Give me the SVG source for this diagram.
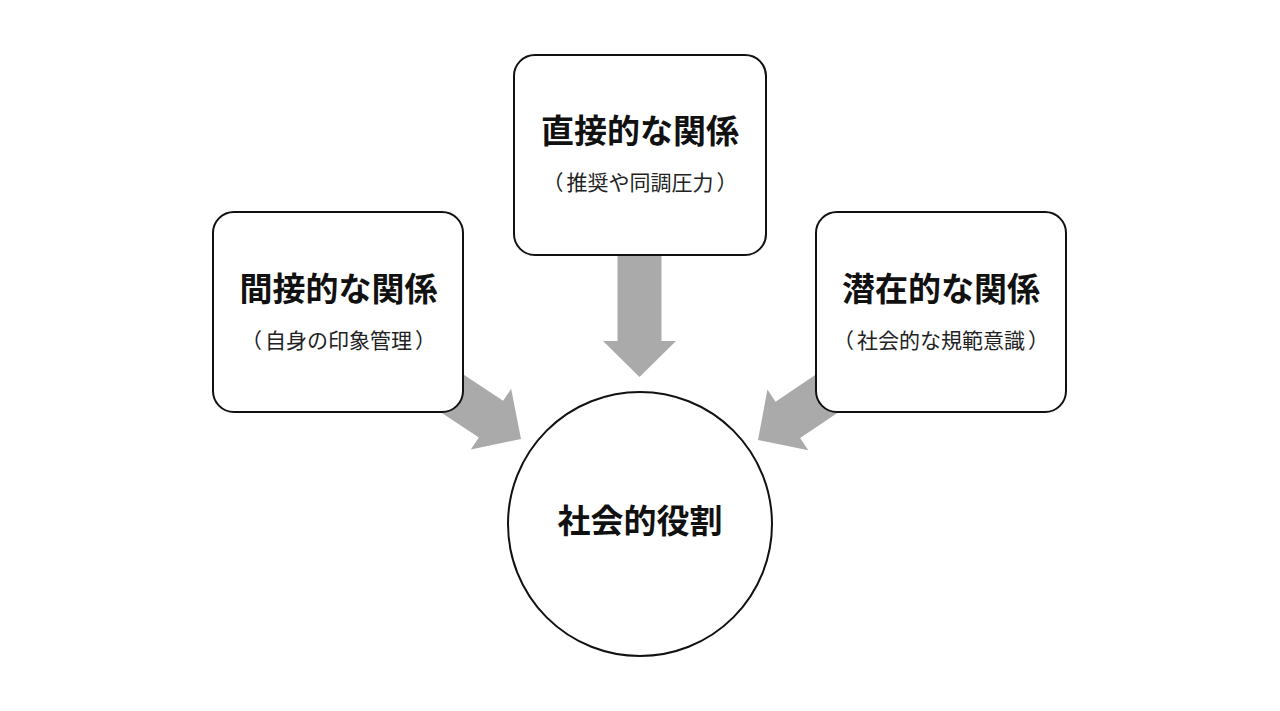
<svg xmlns="http://www.w3.org/2000/svg" xmlns:xlink="http://www.w3.org/1999/xlink" width="1280" height="711" viewBox="0 0 1280 711">
  <style>
    .box { fill: #ffffff; stroke: #111111; stroke-width: 2; }
    .arrow { fill: #aaaaaa; stroke: none; }
    .title { font-family: "Noto Sans CJK JP", "Noto Sans", sans-serif; font-weight: bold; font-size: 33px; fill: #111111; text-anchor: middle; }
    .sub { font-family: "Noto Sans CJK JP", "Noto Sans", sans-serif; font-size: 21px; fill: #222222; text-anchor: middle; }
  </style>
  <defs>
    <polygon id="arrowShape" points="-22,-136 22,-136 22,-36 36.5,-36 0,0 -36.5,-36 -22,-36"/>
  </defs>
  <rect width="1280" height="711" fill="#ffffff"/>
  <g id="connectors">
    <use xlink:href="#arrowShape" href="#arrowShape" class="arrow" transform="translate(639.5,377)"/>
    <use xlink:href="#arrowShape" href="#arrowShape" class="arrow" transform="translate(521,439) rotate(-56.5)"/>
    <use xlink:href="#arrowShape" href="#arrowShape" class="arrow" transform="translate(758,440) rotate(56)"/>
  </g>
  <g id="node-direct">
    <rect class="box" x="514" y="55" width="252" height="200" rx="21" ry="21"/>
    <text class="title" x="640" y="143">直接的な関係</text>
    <text class="sub" x="640" y="190">（<tspan dx="3">推奨や同調圧力</tspan><tspan dx="3">）</tspan></text>
  </g>
  <g id="node-indirect">
    <rect class="box" x="213" y="212" width="250" height="200" rx="21" ry="21"/>
    <text class="title" x="338.5" y="301">間接的な関係</text>
    <text class="sub" x="338.5" y="347.5">（<tspan dx="3">自身の印象管理</tspan><tspan dx="3">）</tspan></text>
  </g>
  <g id="node-latent">
    <rect class="box" x="816" y="212" width="250" height="200" rx="21" ry="21"/>
    <text class="title" x="941" y="301">潜在的な関係</text>
    <text class="sub" x="941" y="347.5">（<tspan dx="3">社会的な規範意識</tspan><tspan dx="3">）</tspan></text>
  </g>
  <g id="node-role">
    <circle class="box" cx="640" cy="524" r="132"/>
    <text class="title" x="640" y="533">社会的役割</text>
  </g>
</svg>
